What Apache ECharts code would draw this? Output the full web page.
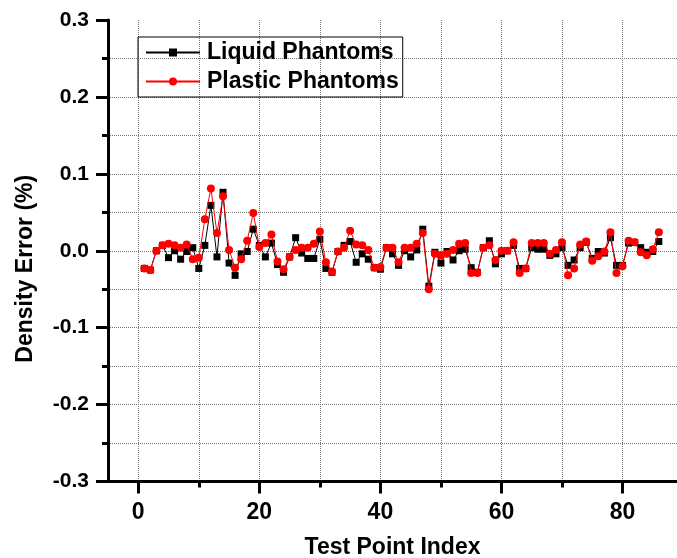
<!DOCTYPE html>
<html>
<head>
<meta charset="utf-8">
<script src="https://cdn.jsdelivr.net/npm/echarts@6/dist/echarts.min.js"></script>
<style>
  html, body { margin: 0; padding: 0; background: #fff; }
  #chart { width: 677px; height: 558px; }
</style>
</head>
<body>
<div id="chart"></div>
<script>
// test point index
var testPoints = [1, 2, 3, 4, 5, 6, 7, 8, 9, 10, 11, 12, 13, 14, 15, 16, 17, 18, 19, 20,
  21, 22, 23, 24, 25, 26, 27, 28, 29, 30, 31, 32, 33, 34, 35, 36, 37, 38, 39, 40,
  41, 42, 43, 44, 45, 46, 47, 48, 49, 50, 51, 52, 53, 54, 55, 56, 57, 58, 59, 60,
  61, 62, 63, 64, 65, 66, 67, 68, 69, 70, 71, 72, 73, 74, 75, 76, 77, 78, 79, 80,
  81, 82, 83, 84, 85, 86];

// density error, liquid phantoms
var liquidErr = [-0.023, -0.025, 0.000, 0.007, -0.009, 0.000, -0.011, -0.001, 0.004, -0.023,
  0.007, 0.059, -0.008, 0.076, -0.016, -0.032, -0.004, -0.001, 0.028, 0.007,
  -0.008, 0.010, -0.018, -0.028, -0.008, 0.017, -0.003, -0.010, -0.010, 0.015,
  -0.023, -0.028, -0.001, 0.007, 0.012, -0.015, -0.004, -0.011, -0.022, -0.024,
  0.004, -0.004, -0.019, 0.000, -0.008, 0.001, 0.028, -0.046, -0.002, -0.016,
  -0.001, -0.012, 0.000, 0.002, -0.022, -0.028, 0.004, 0.013, -0.017, -0.004,
  0.000, 0.007, -0.023, -0.023, 0.004, 0.002, 0.002, -0.006, -0.004, 0.004,
  -0.019, -0.012, 0.004, 0.011, -0.010, -0.001, -0.003, 0.017, -0.019, -0.019,
  0.010, 0.011, 0.004, -0.002, -0.001, 0.012];

// density error, plastic phantoms
var plasticErr = [-0.023, -0.025, 0.000, 0.007, 0.009, 0.007, 0.004, 0.008, -0.011, -0.009,
  0.041, 0.081, 0.023, 0.071, 0.001, -0.022, -0.011, 0.013, 0.049, 0.005,
  0.010, 0.021, -0.014, -0.024, -0.008, 0.001, 0.004, 0.004, 0.009, 0.025,
  -0.015, -0.027, -0.001, 0.004, 0.026, 0.008, 0.007, 0.001, -0.022, -0.021,
  0.004, 0.004, -0.015, 0.004, 0.004, 0.009, 0.023, -0.050, -0.004, -0.006,
  -0.004, 0.001, 0.009, 0.010, -0.029, -0.029, 0.004, 0.007, -0.012, 0.000,
  0.000, 0.011, -0.029, -0.023, 0.010, 0.010, 0.010, -0.004, 0.001, 0.011,
  -0.032, -0.023, 0.008, 0.012, -0.013, -0.007, -0.001, 0.024, -0.029, -0.020,
  0.013, 0.011, -0.002, -0.006, 0.002, 0.024];

var xMajorTicks = [0, 20, 40, 60, 80];
var xMinorTicks = [10, 30, 50, 70];
var xGridLines = [0, 10, 20, 30, 40, 50, 60, 70, 80];

var FONT = 'Liberation Sans';

function pairs(xs, ys) {
  return xs.map(function (x, i) { return [x, ys[i]]; });
}

var chart = echarts.init(document.getElementById('chart'), null, { renderer: 'canvas' });

function gridDash() {
  return { color: '#777', width: 1, type: 'dotted' };
}

var option = {
  backgroundColor: '#fff',
  animation: false,
  grid: { left: 108, right: 0, top: 20, bottom: 76.5, outerBoundsMode: 'none', containLabel: false },
  legend: {
    orient: 'vertical',
    left: 138,
    top: 37,
    padding: [4, 4, 4, 7],
    itemGap: 6,
    itemWidth: 54,
    itemHeight: 10,
    borderColor: '#000',
    borderWidth: 1,
    textStyle: { fontFamily: FONT, fontWeight: 'bold', fontSize: 23, color: '#000', padding: [0, 0, 0, 2] },
    data: ['Liquid Phantoms', 'Plastic Phantoms']
  },
  xAxis: [
    {
      type: 'value', min: -5, max: 89,
      name: 'Test Point Index', nameLocation: 'middle', nameGap: 55,
      nameTextStyle: { fontFamily: FONT, fontWeight: 'bold', fontSize: 23, color: '#000' },
      axisLine: { show: true, onZero: false, lineStyle: { color: '#000', width: 3 } },
      axisTick: { show: true, customValues: xMajorTicks, length: 12, lineStyle: { color: '#000', width: 3 } },
      axisLabel: { customValues: xMajorTicks, margin: 20, fontFamily: FONT, fontWeight: 'bold', fontSize: 23, color: '#000' },
      splitLine: { show: false }
    },
    {
      type: 'value', min: -5, max: 89, position: 'bottom',
      axisLine: { show: false, onZero: false },
      axisTick: { show: true, customValues: xMinorTicks, length: 6, lineStyle: { color: '#000', width: 3 } },
      axisLabel: { show: false },
      splitLine: { show: false }
    },
    {
      type: 'value', min: -5, max: 89, position: 'bottom',
      axisLine: { show: false, onZero: false },
      axisTick: { show: false, customValues: xGridLines },
      axisLabel: { show: false },
      splitLine: { show: true, lineStyle: gridDash() }
    }
  ],
  yAxis: {
    type: 'value', min: -0.3, max: 0.3, interval: 0.1,
    name: 'Density Error (%)', nameLocation: 'middle', nameGap: 71,
    nameTextStyle: { fontFamily: FONT, fontWeight: 'bold', fontSize: 23, color: '#000', padding: [0, 36, 0, 0] },
    axisLine: { show: true, onZero: false, lineStyle: { color: '#000', width: 3 } },
    axisTick: { show: true, length: 12, lineStyle: { color: '#000', width: 3 } },
    minorTick: { show: true, splitNumber: 2, length: 6, lineStyle: { color: '#000', width: 3 } },
    axisLabel: {
      margin: 19, fontFamily: FONT, fontWeight: 'bold', fontSize: 21, color: '#000',
      formatter: function (v) { return Math.abs(v) < 1e-9 ? '0.0' : v.toFixed(1); }
    },
    splitLine: { show: true, showMaxLine: false, lineStyle: gridDash() },
    minorSplitLine: { show: true, lineStyle: gridDash() }
  },
  series: [
    {
      name: 'Liquid Phantoms', type: 'line', xAxisIndex: 0,
      data: pairs(testPoints, liquidErr),
      symbol: 'rect', symbolSize: 7,
      lineStyle: { color: '#000', width: 1 },
      itemStyle: { color: '#000' },
      z: 3
    },
    {
      name: 'Plastic Phantoms', type: 'line', xAxisIndex: 0,
      data: pairs(testPoints, plasticErr),
      symbol: 'circle', symbolSize: 8,
      lineStyle: { color: '#ff0000', width: 1 },
      itemStyle: { color: '#ff0000' },
      z: 4
    }
  ]
};

chart.setOption(option);
</script>
</body>
</html>
